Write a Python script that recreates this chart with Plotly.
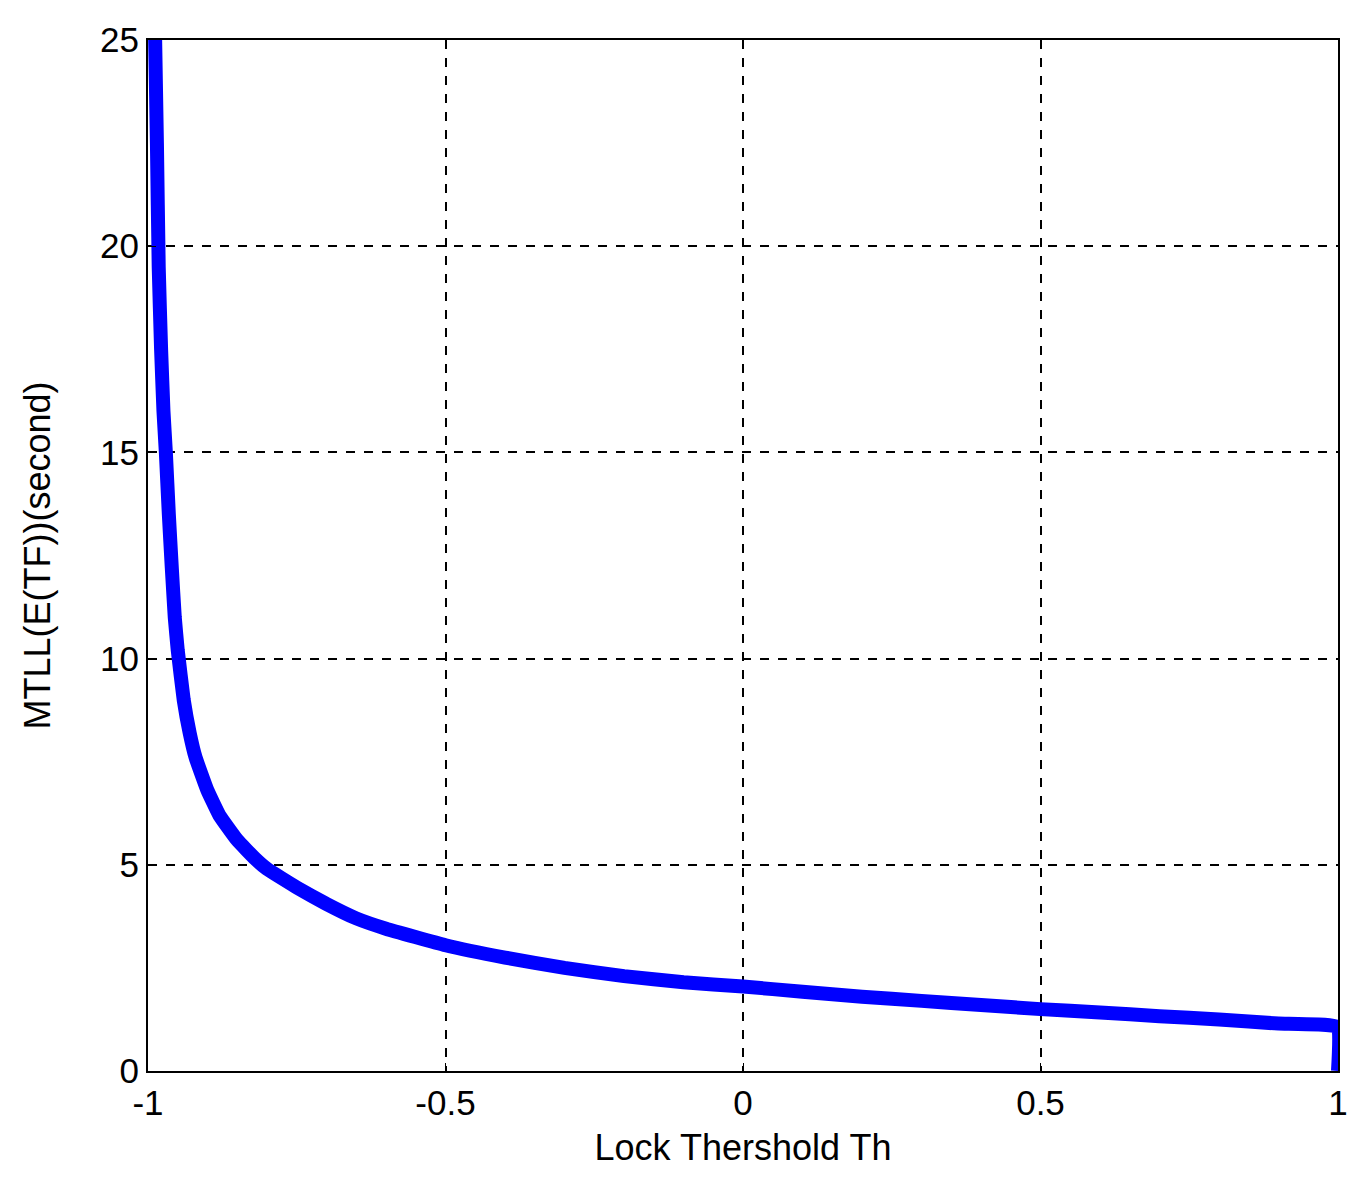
import plotly.graph_objects as go

th = [-0.988, -0.985, -0.982, -0.978, -0.974, -0.97, -0.965, -0.96, -0.955, -0.95, -0.94, -0.93, -0.92, -0.9,
      -0.88, -0.85, -0.82, -0.8, -0.75, -0.7, -0.65, -0.6, -0.5, -0.4, -0.3, -0.2, -0.1,
      0.0, 0.1, 0.2, 0.3, 0.4, 0.5, 0.6, 0.7, 0.8, 0.9, 1.0, 1.0]
mtll = [25, 22.5, 19.5, 17.5, 16.0, 15.0, 13.5, 12.2, 11.0, 10.2, 9.0, 8.2, 7.6, 6.8,
        6.2, 5.6, 5.15, 4.9, 4.45, 4.05, 3.7, 3.45, 3.05, 2.75, 2.5, 2.3, 2.15,
        2.05, 1.92, 1.8, 1.7, 1.6, 1.5, 1.42, 1.33, 1.25, 1.15, 1.07, 0.0]
x_ticks = [-1, -0.5, 0, 0.5, 1]
x_labels = ["-1", "-0.5", "0", "0.5", "1"]
y_ticks = [0, 5, 10, 15, 20, 25]

fig = go.Figure(go.Scatter(x=th, y=mtll, mode="lines",
                           line=dict(color="#0000ff", width=14, shape="spline", smoothing=0.3)))
ax = dict(showline=True, mirror=True, linecolor="black", linewidth=2, ticks="inside",
          ticklen=8, tickcolor="black", showgrid=True, gridcolor="black", griddash="dash",
          gridwidth=1.5, zeroline=False, tickfont=dict(size=35, color="black"))
fig.update_xaxes(range=[-1, 1], tickvals=x_ticks, ticktext=x_labels,
                 title=dict(text="Lock Thershold Th", font=dict(size=36, color="black"), standoff=14), **ax)
fig.update_yaxes(range=[0, 25], tickvals=y_ticks,
                 title=dict(text="MTLL(E(TF))(second)", font=dict(size=36, color="black"), standoff=38), **ax)
fig.update_layout(width=1370, height=1190, margin=dict(l=140, r=40, t=30, b=127),
                  paper_bgcolor="white", plot_bgcolor="white", showlegend=False,
                  font=dict(family="Liberation Sans, Arial, sans-serif"))
fig.write_html("out.html")
